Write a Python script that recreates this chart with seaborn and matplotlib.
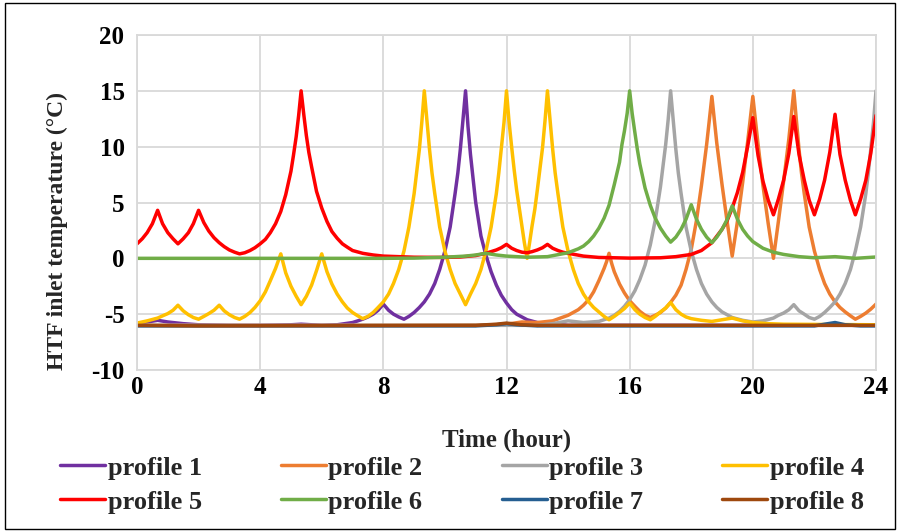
import matplotlib
matplotlib.use("Agg")
import matplotlib.pyplot as plt
import seaborn as sns
import pandas as pd
from matplotlib.patches import Rectangle

# ---------------- data ----------------
names = ["profile 1", "profile 2", "profile 3", "profile 4",
         "profile 5", "profile 6", "profile 7", "profile 8"]
colors = ["#7030A0", "#ED7D31", "#A5A5A5", "#FFC000",
          "#FF0000", "#70AD47", "#255E91", "#9E480E"]

t1 = [0, 0.33, 0.67, 1.0, 1.5, 2.0, 3.0, 4.0, 5.0, 5.33, 5.67, 6.0, 6.5, 7.0, 7.17, 7.33, 7.5,
      7.67, 7.83, 8.0, 8.17, 8.33, 8.5, 8.67, 8.83, 9.0, 9.17, 9.33, 9.5, 9.67, 9.83, 10.0, 10.17,
      10.33, 10.42, 10.5, 10.58, 10.67, 10.75, 10.83, 10.92, 11.0, 11.17, 11.33, 11.5, 11.67,
      11.83, 12.0, 12.17, 12.33, 12.67, 13.0, 13.5, 14.0, 24.0]
v1 = [-5.85, -5.7, -5.55, -5.7, -5.85, -5.95, -6.0, -6.0, -5.95, -5.9, -5.95, -6.0, -5.95, -5.75,
      -5.6, -5.45, -5.25, -5.0, -4.65, -4.1, -4.65, -5.0, -5.25, -5.45, -5.2, -4.85, -4.4, -3.9,
      -3.2, -2.25, -1.0, 0.65, 2.8, 5.8, 7.65, 9.75, 12.2, 15.0, 11.8, 9.3, 7.0, 5.0, 2.0, 0.3,
      -1.2, -2.4, -3.3, -4.0, -4.6, -5.0, -5.5, -5.75, -5.9, -6.0, -6.0]

t2 = [0, 11.0, 12.0, 12.5, 13.0, 13.5, 14.0, 14.33, 14.5, 14.67, 14.83, 15.0, 15.17, 15.25, 15.33,
      15.42, 15.5, 15.67, 15.83, 16.0, 16.17, 16.33, 16.5, 16.67, 16.83, 17.0, 17.17, 17.33,
      17.5, 17.67, 17.83, 18.0, 18.17, 18.33, 18.5, 18.58, 18.67, 18.83, 19.0, 19.17, 19.33,
      19.5, 19.67, 19.83, 20.0, 20.17, 20.33, 20.5, 20.67, 20.83, 21.0, 21.17, 21.33, 21.42,
      21.5, 21.58, 21.67, 21.83, 22.0, 22.17, 22.33, 22.5, 22.67, 22.83, 23.0, 23.17, 23.33,
      23.5, 23.67, 23.83, 24.0]
v2 = [-6.0, -6.0, -5.9, -5.7, -5.75, -5.6, -5.1, -4.6, -4.2, -3.7, -3.0, -2.0, -0.9, -0.3, 0.45,
      -0.5, -1.2, -2.3, -3.1, -3.8, -4.3, -4.75, -5.1, -5.3, -5.1, -4.85, -4.45, -3.95,
      -3.3, -2.4, -1.0, 0.8, 3.4, 6.5, 10.2, 12.2, 14.5, 10.3, 6.6, 3.2, 0.2,
      3.3, 6.8, 10.4, 14.5, 10.2, 6.5, 3.1, 0.0, 3.3, 6.9, 10.7, 15.0, 12.2,
      9.75, 7.65, 5.8, 2.8, 0.65, -1.0, -2.25, -3.2, -3.9, -4.4, -4.8, -5.15, -5.45,
      -5.2, -4.9, -4.55, -4.1]

t3 = [0, 13.0, 13.5, 14.0, 14.5, 15.0, 15.33, 15.5, 15.67, 15.83, 16.0, 16.17, 16.33, 16.5, 16.67,
      16.83, 17.0, 17.08, 17.17, 17.25, 17.33, 17.42, 17.5, 17.58, 17.67, 17.83, 18.0, 18.17,
      18.33, 18.5, 18.67, 18.83, 19.0, 19.33, 19.67, 20.0, 20.33, 20.67, 20.83, 21.0, 21.17,
      21.33, 21.5, 21.67, 21.83, 22.0, 22.17, 22.33, 22.5, 22.67, 22.83, 23.0, 23.17, 23.33,
      23.5, 23.67, 23.75, 23.83, 23.92, 24.0]
v3 = [-6.0, -6.0, -5.85, -5.6, -5.75, -5.65, -5.35, -5.1, -4.75, -4.3, -3.7, -2.9, -1.9, -0.6, 1.2,
      3.4, 6.4, 8.2, 10.2, 12.4, 15.0, 12.2, 9.75, 7.65, 5.8, 2.8, 0.65, -1.0,
      -2.25, -3.2, -3.9, -4.4, -4.8, -5.3, -5.55, -5.7, -5.6, -5.35, -5.1, -4.9, -4.6,
      -4.15, -4.7, -5.0, -5.3, -5.45, -5.2, -4.85, -4.4, -3.9, -3.2, -2.25, -1.0, 0.65,
      2.8, 5.8, 7.65, 9.75, 12.2, 15.0]

t4 = [0, 0.33, 0.67, 0.83, 1.0, 1.17, 1.33, 1.5, 1.67, 1.83, 2.0, 2.17, 2.33, 2.5, 2.67, 2.83, 3.0,
      3.17, 3.33, 3.5, 3.67, 3.83, 4.0, 4.17, 4.33, 4.5, 4.67, 4.83, 5.0, 5.17, 5.33, 5.5, 5.67,
      5.83, 6.0, 6.17, 6.33, 6.5, 6.67, 6.83, 7.0, 7.17, 7.33, 7.5, 7.67, 7.83, 8.0, 8.17, 8.33,
      8.5, 8.67, 8.83, 9.0, 9.08, 9.17, 9.25, 9.33, 9.42, 9.5, 9.58, 9.67, 9.83, 10.0, 10.17,
      10.33, 10.5, 10.67, 10.83, 11.0, 11.17, 11.33, 11.5, 11.67, 11.75, 11.83, 11.92, 12.0,
      12.08, 12.17, 12.25, 12.33, 12.42, 12.5, 12.58, 12.67, 12.75, 12.83, 12.92, 13.0, 13.08,
      13.17, 13.25, 13.33, 13.42, 13.5, 13.58, 13.67, 13.83, 14.0, 14.17, 14.33, 14.5, 14.67,
      14.83, 15.0, 15.17, 15.33, 15.5, 15.67, 15.83, 16.0, 16.17, 16.33, 16.5, 16.67, 16.83,
      17.0, 17.17, 17.33, 17.5, 17.67, 17.83, 18.0, 18.33, 18.67, 19.0, 19.33, 19.67, 20.0,
      20.5, 21.0, 24.0]
v4 = [-5.8, -5.6, -5.35, -5.15, -4.95, -4.65, -4.2, -4.7, -5.05, -5.3, -5.45, -5.2, -4.95, -4.65,
      -4.2, -4.7, -5.05, -5.3, -5.45, -5.2, -4.85, -4.4, -3.8, -3.0, -2.0, -0.9, 0.4, -1.3, -2.5,
      -3.4, -4.15, -3.4, -2.4, -1.1, 0.4, -1.2, -2.3, -3.2, -3.9, -4.45, -4.85, -5.15, -5.4,
      -5.2, -4.85, -4.4, -3.9, -3.2, -2.25, -1.0, 0.65, 2.8, 5.8, 7.65, 9.75, 12.2, 15.0, 12.2,
      9.75, 7.65, 5.8, 2.8, 0.65, -1.0, -2.25, -3.2, -4.15, -3.2, -2.25, -1.0, 0.65, 2.8, 5.8,
      7.65, 9.75, 12.2, 15.0, 12.3, 9.9, 7.9, 6.1, 4.4, 2.9, 1.4, 0.0, 1.4, 2.9, 4.4, 6.1, 7.9,
      9.9, 12.3, 15.0, 12.2, 9.75, 7.65, 5.8, 2.8, 0.65, -1.0, -2.25, -3.2, -3.9,
      -4.4, -4.8, -5.2, -5.5, -5.2, -4.85, -4.5, -4.0, -4.6, -5.0, -5.3, -5.5, -5.2,
      -4.8, -4.45, -3.95, -4.6, -5.0, -5.25, -5.4, -5.55, -5.65, -5.5, -5.35, -5.6, -5.75,
      -5.85, -5.9, -5.95]

t5 = [0, 0.17, 0.33, 0.5, 0.67, 0.83, 1.0, 1.17, 1.33, 1.5, 1.67, 1.83, 2.0, 2.17, 2.33, 2.5, 2.67,
      2.83, 3.0, 3.17, 3.33, 3.5, 3.67, 3.83, 4.0, 4.17, 4.33, 4.5, 4.67, 4.83, 5.0, 5.08, 5.17,
      5.25, 5.33, 5.42, 5.5, 5.58, 5.67, 5.83, 6.0, 6.17, 6.33, 6.5, 6.67, 6.83, 7.0, 7.33, 7.67,
      8.0, 9.0, 10.0, 10.5, 11.0, 11.33, 11.5, 11.67, 11.83, 12.0, 12.17, 12.33, 12.5, 12.67,
      12.83, 13.0, 13.17, 13.33, 13.5, 13.67, 13.83, 14.0, 14.5, 15.0, 16.0, 17.0, 17.5, 18.0,
      18.33, 18.67, 19.0, 19.17, 19.33, 19.5, 19.67, 19.83, 20.0, 20.17, 20.33, 20.5, 20.67,
      20.83, 21.0, 21.17, 21.33, 21.5, 21.67, 21.83, 22.0, 22.17, 22.33, 22.5, 22.67, 22.83,
      23.0, 23.17, 23.33, 23.5, 23.67, 23.83, 24.0]
v5 = [1.3, 1.75, 2.3, 3.1, 4.3, 3.1, 2.3, 1.75, 1.3, 1.75, 2.3, 3.1, 4.3, 3.2, 2.45, 1.85, 1.4,
      1.05, 0.75, 0.55, 0.4, 0.5, 0.7, 0.95, 1.3, 1.7, 2.3, 3.1, 4.2, 5.7, 7.8, 9.2, 10.9,
      12.8, 15.0, 12.8, 11.0, 9.5, 8.2, 6.0, 4.5, 3.3, 2.4, 1.8, 1.3, 1.0, 0.7, 0.45, 0.3,
      0.2, 0.1, 0.08, 0.12, 0.25, 0.45, 0.6, 0.75, 0.95, 1.25, 0.9, 0.7, 0.55, 0.5,
      0.6, 0.75, 0.95, 1.25, 0.9, 0.7, 0.55, 0.45, 0.2, 0.08, 0.02, 0.05, 0.15, 0.35,
      0.7, 1.4, 2.6, 3.4, 4.5, 5.9, 7.7, 10.0, 12.6, 9.2, 6.9, 5.2, 3.9,
      5.3, 7.0, 9.4, 12.7, 9.3, 7.0, 5.2, 3.9, 5.3, 7.0, 9.5, 12.9, 9.3,
      7.0, 5.2, 3.9, 5.3, 7.0, 9.4, 12.8]

t6 = [0, 8.0, 9.0, 10.0, 10.67, 11.0, 11.33, 11.67, 12.0, 12.67, 13.33, 14.0, 14.33, 14.5, 14.67,
      14.83, 15.0, 15.17, 15.33, 15.5, 15.67, 15.75, 15.83, 15.92, 16.0, 16.08, 16.17, 16.25,
      16.33, 16.5, 16.67, 16.83, 17.0, 17.17, 17.33, 17.5, 17.67, 17.83, 18.0, 18.17, 18.33,
      18.5, 18.67, 18.83, 19.0, 19.17, 19.33, 19.5, 19.67, 19.83, 20.0, 20.33, 20.67, 21.0,
      21.5, 22.0, 22.67, 23.33, 24.0]
v6 = [0.0, 0.0, 0.02, 0.1, 0.2, 0.3, 0.45, 0.3, 0.2, 0.1, 0.15, 0.5, 0.85, 1.1, 1.5,
      2.0, 2.7, 3.6, 4.75, 6.6, 8.6, 10.2, 11.4, 13.0, 15.0, 13.0, 11.25, 9.75,
      8.45, 6.3, 4.75, 3.6, 2.7, 2.0, 1.45, 1.9, 2.6, 3.5, 4.8, 3.5, 2.6,
      1.9, 1.4, 1.9, 2.6, 3.5, 4.7, 3.5, 2.6, 2.0, 1.5, 0.9, 0.55, 0.35,
      0.15, 0.05, 0.15, 0.0, 0.12]

t7 = [0, 11.0, 11.67, 12.0, 12.33, 13.0, 22.0, 22.33, 22.67, 23.0, 23.5, 24.0]
v7 = [-6.05, -6.05, -5.95, -5.85, -5.95, -6.05, -6.05, -5.9, -5.75, -5.95, -6.05, -6.05]

t8 = [0, 2.0, 11.0, 11.67, 12.0, 12.5, 13.0, 24.0]
v8 = [-6.0, -6.05, -6.0, -5.9, -5.8, -5.95, -6.0, -6.0]

x_ticks = [0, 4, 8, 12, 16, 20, 24]
y_ticks = [-10, -5, 0, 5, 10, 15, 20]

# ---------------- build long table ----------------
series = [(t1, v1), (t2, v2), (t3, v3), (t4, v4), (t5, v5), (t6, v6), (t7, v7), (t8, v8)]
rows = []
for name, (tt, vv) in zip(names, series):
    for a, b in zip(tt, vv):
        rows.append((name, a, b))
df = pd.DataFrame(rows, columns=["profile", "time", "temp"])

# ---------------- figure ----------------
sns.set_theme(style="white")
plt.rcParams["font.family"] = ["Liberation Serif", "DejaVu Serif"]

W, H = 901, 531
fig = plt.figure(figsize=(W / 100, H / 100), dpi=100)
L, R, T, B = 137, 876, 35, 370
ax = fig.add_axes([L / W, 1 - B / H, (R - L) / W, (B - T) / H])

sns.lineplot(data=df, x="time", y="temp", hue="profile", hue_order=names,
             palette=colors, linewidth=2.5, estimator=None, sort=True,
             legend=False, ax=ax)
for ln in ax.get_lines():
    ln.set_solid_joinstyle("round")
    ln.set_solid_capstyle("round")

ax.set_xlim(0, 24)
ax.set_ylim(-10, 20)
ax.set_xticks(x_ticks)
ax.set_yticks(y_ticks)
ax.set_xticklabels([str(v) for v in x_ticks])
ax.set_yticklabels([str(v) for v in y_ticks])
ax.grid(True, color="#D9D9D9", linewidth=1.3)
ax.set_axisbelow(True)
for s in ax.spines.values():
    s.set_color("#D9D9D9")
    s.set_linewidth(1.3)
ax.tick_params(axis="both", length=0, labelsize=18, colors="black")
ax.tick_params(axis="y", pad=9)
ax.tick_params(axis="x", pad=4)
for lab in ax.get_xticklabels() + ax.get_yticklabels():
    lab.set_fontweight("bold")

ax.set_xlabel("Time (hour)", fontsize=18, fontweight="bold")
ax.xaxis.set_label_coords(0.5, (370 - 440) / 335, transform=ax.transAxes)
ax.xaxis.label.set_va("center")
ax.set_ylabel("HTF inlet temperature (°C)", fontsize=17, fontweight="bold")
ax.yaxis.set_label_coords((57 - 137) / 739, (370 - 231) / 335, transform=ax.transAxes)
ax.yaxis.label.set_va("center")

lines = ax.get_lines()[:len(names)]
order = [0, 4, 1, 5, 2, 6, 3, 7]
fig.legend([lines[i] for i in order], [names[i] for i in order], ncol=4, loc="upper left",
           bbox_to_anchor=(47 / W, 1 - 443 / H), frameon=False,
           prop={"family": "Liberation Serif", "weight": "bold", "size": 19},
           handlelength=1.7, handletextpad=0.1, columnspacing=3.0,
           labelspacing=0.4, borderpad=0.0)

fig.patches.append(Rectangle((5 / W, 2 / H), (W - 11) / W, (H - 5) / H,
                             transform=fig.transFigure, fill=False,
                             edgecolor="black", linewidth=1.0))

fig.savefig("out.png", dpi=100)
